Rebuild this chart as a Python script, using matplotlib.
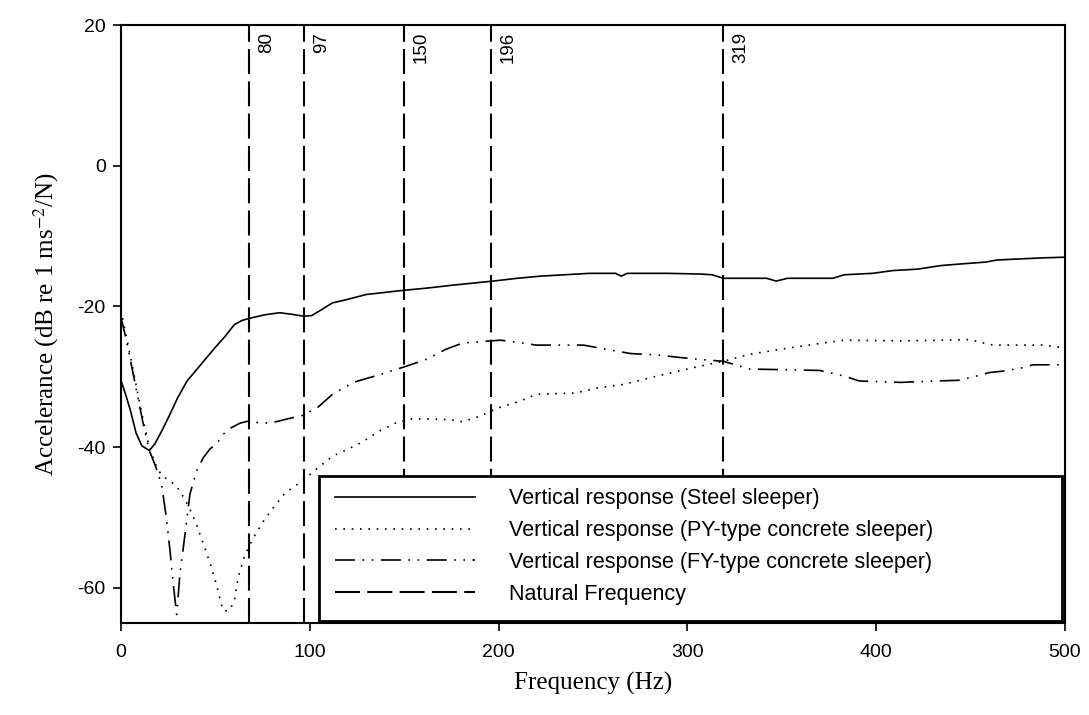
import matplotlib
matplotlib.use('Agg')
import matplotlib.pyplot as plt
from matplotlib.lines import Line2D
from matplotlib.patches import Rectangle

# steel sleeper (solid)
steel_f = [0, 3, 5, 8, 11, 15, 18, 22, 26, 30, 35, 40, 45, 50, 55, 60, 64, 68, 76, 84, 90, 97,
           101, 106, 112, 120, 130, 140, 150, 162, 175, 186, 197, 210, 222, 235, 248, 262, 265,
           268, 290, 307, 313, 319, 342, 347, 353, 377, 383, 398, 409, 422, 434, 443, 458, 464,
           488, 500]
steel_db = [-30.5, -33, -34.8, -38, -39.8, -40.5, -39.5, -37.5, -35.3, -33, -30.6, -29, -27.4,
            -25.8, -24.3, -22.6, -22, -21.7, -21.2, -20.9, -21.1, -21.4, -21.3, -20.5, -19.5,
            -19, -18.3, -18, -17.7, -17.4, -17, -16.7, -16.4, -16, -15.7, -15.5, -15.3, -15.3,
            -15.7, -15.3, -15.3, -15.4, -15.5, -16, -16, -16.4, -16, -16, -15.5, -15.3, -14.9,
            -14.7, -14.2, -14, -13.7, -13.4, -13.1, -13.0]

# PY-type concrete sleeper (dotted)
py_f = [0, 3, 6, 9, 12, 15, 18, 21, 25, 29, 32, 36, 40, 44, 48, 51, 54, 57, 60, 62, 65, 68, 71,
        76, 81, 87, 96, 104, 112, 120, 127, 137, 146, 153, 165, 174, 181, 190, 199, 211, 220,
        241, 252, 266, 284, 300, 310, 319, 333, 354, 372, 383, 413, 437, 450, 455, 462, 488,
        497, 500]
py_db = [-20.5, -24.5, -28.5, -32.5, -36.5, -40, -42.3, -43.8, -44.7, -45.4, -46.6, -48.5, -51,
         -54, -57.2, -60, -63.2, -63.3, -62, -58.6, -55.8, -54, -52.5, -50.3, -48.5, -46.5,
         -44.8, -43, -41.3, -40.3, -39.4, -37.7, -36.5, -36, -36, -36.1, -36.4, -35.6, -34.5,
         -33.5, -32.5, -32.3, -31.6, -31.1, -29.9, -28.9, -28.3, -27.8, -26.8, -25.9, -25.2,
         -24.8, -24.9, -24.8, -24.7, -25.1, -25.5, -25.5, -25.8, -25.8]

# FY-type concrete sleeper (dash-dot-dot)
fy_f = [0, 3, 6, 9, 12, 15, 18, 21.5, 24, 26, 27.7, 29.5, 31.2, 33.9, 36.5, 40, 43.6, 47, 51,
        54, 58, 63, 67.4, 72, 79, 88, 96, 104, 112, 123, 137, 150, 162, 172, 181, 196, 201,
        210, 220, 245, 257, 270, 284, 294, 305, 319, 333, 370, 383, 391, 413, 432, 444, 453,
        460, 467, 478, 483, 500]
fy_db = [-21.5, -25, -29, -33, -37, -40.5, -42.5, -45.3, -50, -54.8, -59.5, -63.8, -58.1, -52.4,
         -46.7, -43.4, -41.5, -40.3, -39.4, -38.2, -37.3, -36.6, -36.3, -36.5, -36.6, -36,
         -35.5, -34.4, -32.5, -30.8, -29.7, -28.6, -27.5, -26.1, -25.2, -24.9, -24.8, -25.1,
         -25.5, -25.5, -26.1, -26.7, -26.9, -27.2, -27.5, -27.8, -28.9, -29.1, -29.9, -30.6,
         -30.8, -30.6, -30.5, -29.9, -29.4, -29.2, -28.7, -28.3, -28.3]

# natural frequency markers: drawn position and printed label
nat_pos = [68, 97, 150, 196, 319]
nat_labels = ['80', '97', '150', '196', '319']

legend_labels = ['Vertical response (Steel sleeper)',
                 'Vertical response (PY-type concrete sleeper)',
                 'Vertical response (FY-type concrete sleeper)',
                 'Natural Frequency']

plt.rcParams['font.family'] = ['Liberation Sans', 'DejaVu Sans']
plt.rcParams['mathtext.fontset'] = 'stix'
plt.rcParams['axes.unicode_minus'] = False

dotted = (0, (1, 4))
dashdotdot = (0, (12, 4.5, 1, 4.5, 1, 4.5))
dashed = (0, (12, 3.5))

fig = plt.figure(figsize=(10.89, 7.15), dpi=100)
ax = fig.add_axes([0.1111, 0.1287, 0.8669, 0.8363])

ax.plot(steel_f, steel_db, color='black', lw=1.2, ls='-')
ax.plot(py_f, py_db, color='black', lw=1.2, ls=dotted)
ax.plot(fy_f, fy_db, color='black', lw=1.2, ls=dashdotdot)

for pos, lab in zip(nat_pos, nat_labels):
    ax.axvline(pos, color='black', lw=1.5, ls=dashed, zorder=1)
    ax.annotate(lab, xy=(pos, 1), xycoords=('data', 'axes fraction'),
                xytext=(12.5, -5), textcoords='offset points',
                rotation=90, ha='center', va='top', fontsize=13.5)

ax.set_xlim(0, 500)
ax.set_ylim(-65, 20)
ax.set_xticks([0, 100, 200, 300, 400, 500])
ax.set_yticks([-60, -40, -20, 0, 20])
ax.tick_params(direction='out', length=6, width=1.2, labelsize=14, pad=5)
ax.tick_params(axis='x', pad=9)
for s in ax.spines.values():
    s.set_linewidth(1.5)

ax.set_xlabel('Frequency (Hz)', fontsize=18, family='Liberation Serif', labelpad=8)
ax.set_ylabel('Accelerance (dB re 1 ms$^{-2}$/N)', fontsize=18,
              family='Liberation Serif', labelpad=12)

# legend box
ax.add_patch(Rectangle((0.21, 0.003), 0.787, 0.243, transform=ax.transAxes,
                       facecolor='white', edgecolor='black', lw=2, zorder=5))
handles = [Line2D([], [], color='black', lw=1.2, ls='-'),
           Line2D([], [], color='black', lw=1.2, ls=dotted),
           Line2D([], [], color='black', lw=1.2, ls=dashdotdot),
           Line2D([], [], color='black', lw=1.5, ls=dashed)]
leg = ax.legend(handles, legend_labels, loc='upper left', bbox_to_anchor=(0.215, 0.243),
                frameon=False, fontsize=15.5, handlelength=6.5, handletextpad=1.6,
                labelspacing=0.5, borderaxespad=0.3, borderpad=0.2)
leg.set_zorder(6)

fig.savefig('out.png', dpi=100)
